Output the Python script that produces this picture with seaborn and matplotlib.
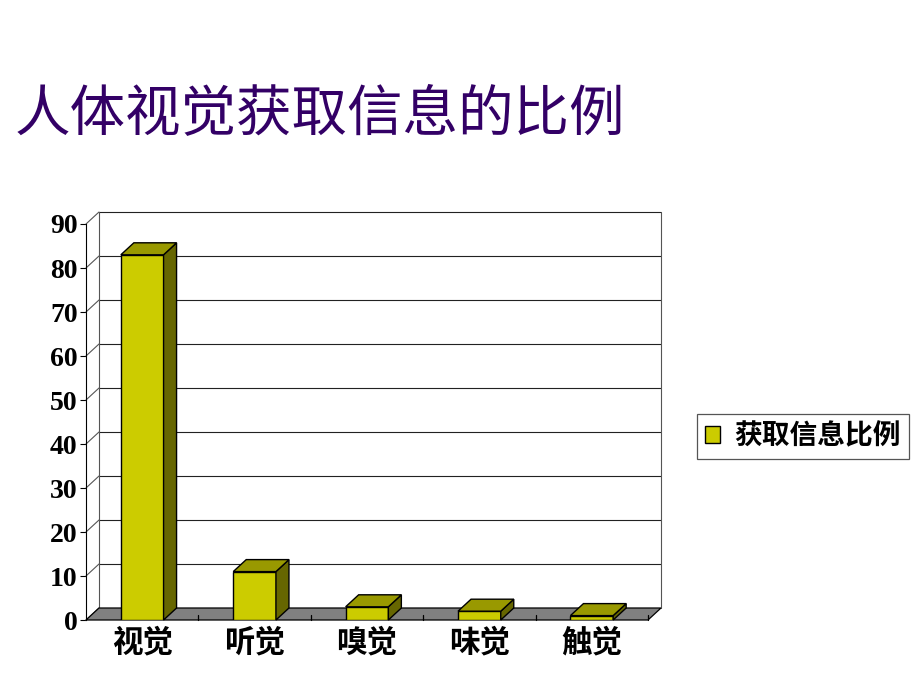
import matplotlib
matplotlib.use('Agg')
import matplotlib.pyplot as plt
import seaborn as sns
import numpy as np
import pandas as pd
from matplotlib.patches import Polygon, Patch
from matplotlib.lines import Line2D
from matplotlib.transforms import IdentityTransform

# ---- data ----
categories = ['视觉', '听觉', '嗅觉', '味觉', '触觉']
values = [83, 11, 3, 2, 1]
series_name = '获取信息比例'
yticks = [0, 10, 20, 30, 40, 50, 60, 70, 80, 90]
title = '人体视觉获取信息的比例'

# ---- style ----
sns.set_theme(style='white')
plt.rcParams['font.family'] = ['Noto Sans CJK SC', 'DejaVu Sans']
plt.rcParams['text.color'] = 'black'
plt.rcParams['xtick.color'] = 'black'
plt.rcParams['ytick.color'] = 'black'

FRONT = '#CCCC00'
TOP = '#999900'
SIDE = '#666600'
FLOOR = '#808080'
DX, DY = 13, 12  # depth offset in pixels

DPI = 100
fig = plt.figure(figsize=(9.2, 6.9), dpi=DPI, facecolor='white')
ax = fig.add_axes([86/920, 70/690, 562/920, 396/690])
ax.patch.set_alpha(0)

df = pd.DataFrame({'cat': categories, 'val': values})
sns.barplot(data=df, x='cat', y='val', color=FRONT, saturation=1, width=0.38,
            edgecolor='black', linewidth=1, ax=ax, zorder=5)
ax.set_xlim(-0.5, len(categories) - 0.5)
ax.set_ylim(0, max(yticks))
ax.set_xlabel('')
ax.set_ylabel('')

for s in ['top', 'right', 'bottom']:
    ax.spines[s].set_visible(False)
ax.spines['left'].set_color('black')
ax.spines['left'].set_linewidth(0.8)

ax.set_yticks(yticks)
ax.set_yticklabels([str(t) for t in yticks], fontfamily='Liberation Serif',
                   fontweight='bold', fontsize=20, color='black')
ax.tick_params(axis='y', length=4, width=0.8, color='black', pad=2, left=True)
ax.set_xticks(range(len(categories)))
ax.set_xticklabels(categories, fontweight='bold', fontsize=22, color='black')
ax.tick_params(axis='x', length=0, pad=5)

ident = IdentityTransform()
td = ax.transData

def disp(x, y):
    return td.transform((x, y))

x0, x1 = -0.5, len(categories) - 0.5

# back wall gridlines + side wall diagonals
for v in yticks:
    fl = disp(x0, v)
    fr = disp(x1, v)
    bl = fl + [DX, DY]
    br = fr + [DX, DY]
    if v != 0:
        ax.add_line(Line2D([bl[0], br[0]], [bl[1], br[1]], color='#222222', lw=0.8,
                           transform=ident, clip_on=False, zorder=1))
    ax.add_line(Line2D([fl[0], bl[0]], [fl[1], bl[1]], color='#555555', lw=0.8,
                       transform=ident, clip_on=False, zorder=1))

# back wall left and right edges
bl0 = disp(x0, 0) + [DX, DY]
bl9 = disp(x0, max(yticks)) + [DX, DY]
br0 = disp(x1, 0) + [DX, DY]
br9 = disp(x1, max(yticks)) + [DX, DY]
ax.add_line(Line2D([bl0[0], bl9[0]], [bl0[1], bl9[1]], color='#555555', lw=0.8,
                   transform=ident, clip_on=False, zorder=1))
ax.add_line(Line2D([br0[0], br9[0]], [br0[1], br9[1]], color='#555555', lw=0.8,
                   transform=ident, clip_on=False, zorder=1))

# floor
f_l = disp(x0, 0)
f_r = disp(x1, 0)
floor = Polygon([f_l, f_r, f_r + [DX, DY], f_l + [DX, DY]], closed=True,
                facecolor=FLOOR, edgecolor='black', lw=0.9,
                transform=ident, clip_on=False, zorder=2)
ax.add_patch(floor)

# floor ticks at category boundaries
for b in np.arange(0.5, len(categories), 1.0):
    p = disp(b, 0)
    ax.add_line(Line2D([p[0], p[0]], [p[1], p[1] + 5], color='black', lw=0.9,
                       transform=ident, clip_on=False, zorder=3))

# 3D faces of bars
for bar in list(ax.patches):
    if bar is floor:
        continue
    bx = bar.get_x()
    bw = bar.get_width()
    bh = bar.get_height()
    p_br = disp(bx + bw, 0)
    p_tl = disp(bx, bh)
    p_tr = disp(bx + bw, bh)
    off = np.array([DX, DY])
    side = Polygon([p_br, p_tr, p_tr + off, p_br + off], closed=True,
                   facecolor=SIDE, edgecolor='black', lw=1,
                   transform=ident, clip_on=False, zorder=5)
    top = Polygon([p_tl, p_tr, p_tr + off, p_tl + off], closed=True,
                  facecolor=TOP, edgecolor='black', lw=1,
                  transform=ident, clip_on=False, zorder=5)
    ax.add_patch(side)
    ax.add_patch(top)

# title
fig.text(15/920, 1 - 115/690, title, fontsize=40, color='#330066',
         ha='left', va='center')

# legend
handles = [Patch(facecolor=FRONT, edgecolor='black', linewidth=1)]
leg = fig.legend(handles, [series_name], loc='center',
                 bbox_to_anchor=(803/920, 1 - 436.5/690),
                 frameon=True, fancybox=False, edgecolor='#555555', framealpha=1,
                 prop={'weight': 'bold', 'size': 20},
                 handlelength=0.55, handleheight=0.55, handletextpad=0.5,
                 borderpad=0.3, borderaxespad=0, labelcolor='black')
leg.get_frame().set_linewidth(0.9)

fig.savefig('out.png', dpi=DPI, facecolor='white')
